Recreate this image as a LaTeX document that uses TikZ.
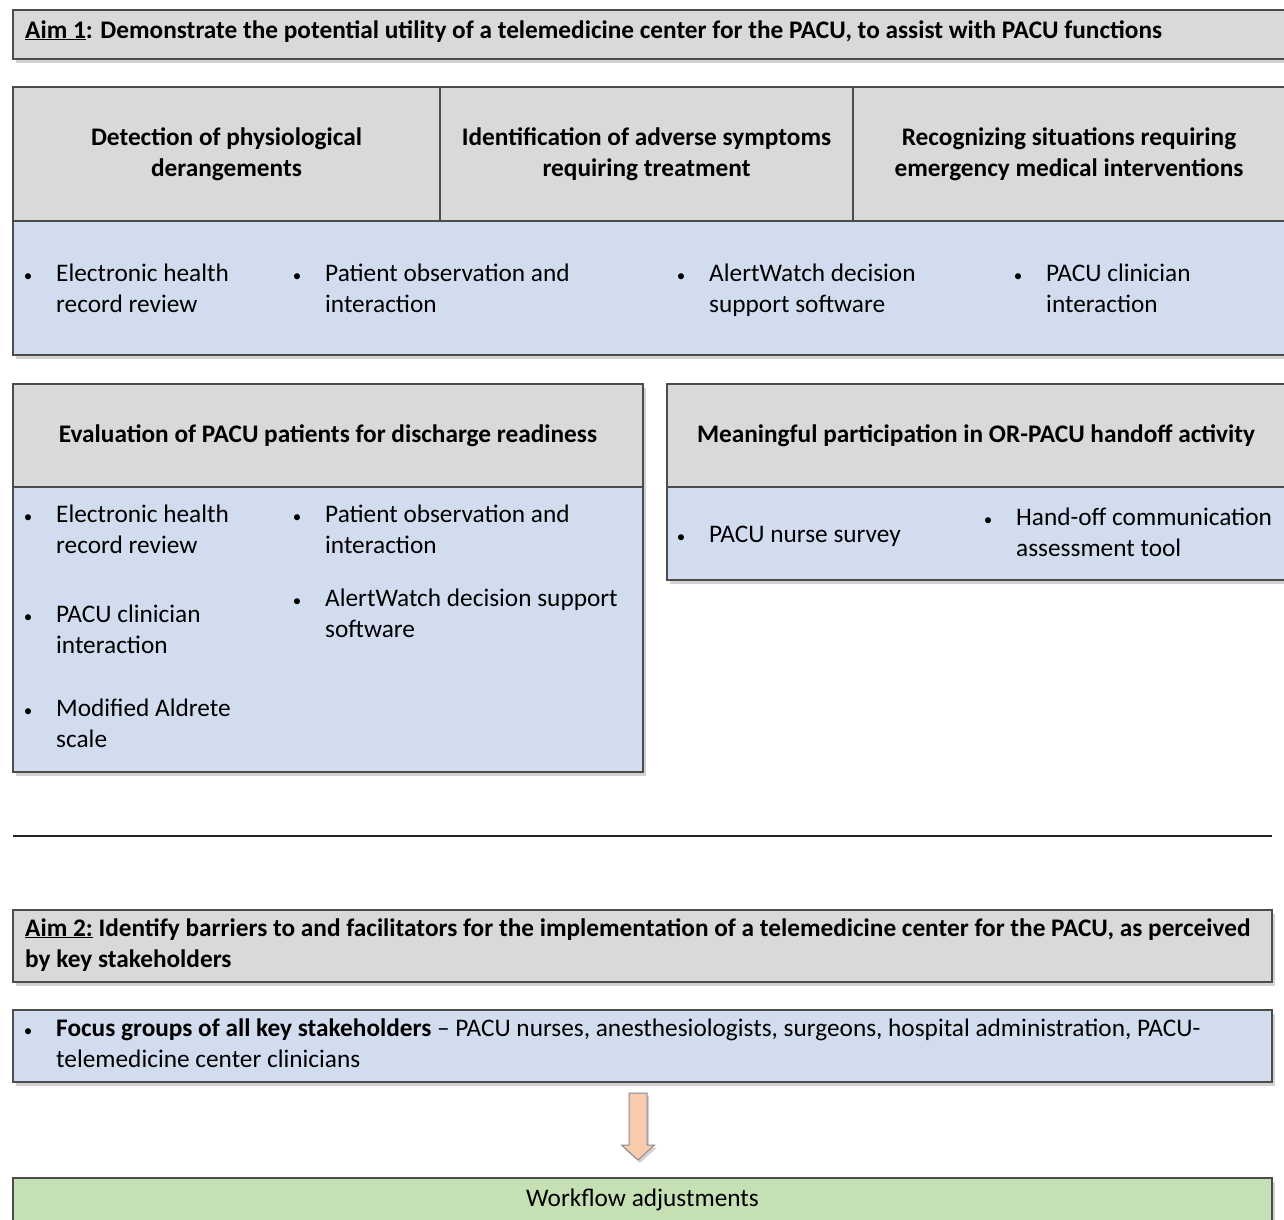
\documentclass[tikz,border=0pt]{standalone}
\usepackage{fontspec}
\setmainfont{Carlito}
\usetikzlibrary{shadows,calc}
\definecolor{boxgray}{RGB}{217,217,217}
\definecolor{boxblue}{RGB}{209,221,239}
\definecolor{boxgreen}{RGB}{197,224,180}
\definecolor{arrowpeach}{RGB}{248,203,173}
\newcommand{\bul}{\makebox[0pt]{\fontsize{17}{17}\selectfont\textbullet}\hspace*{28pt}}
\newcommand{\ind}{\hspace*{28pt}}

\begin{document}
\begin{tikzpicture}[x=1pt,y=-1pt,font=\fontsize{25.3}{31}\selectfont,
  box/.style={rectangle,draw=black!70,line width=1.2pt,anchor=north west,inner sep=0pt,outer sep=0pt,
    drop shadow={shadow xshift=3pt,shadow yshift=-4pt,opacity=.25,fill=black!70}},
  head/.style={box,fill=boxgray,align=center,font=\fontsize{25.3}{31}\selectfont\bfseries},
  body/.style={box,fill=boxblue},
  txt/.style={anchor=base west,inner sep=0pt,align=left}]
\useasboundingbox (0,0) rectangle (1284,1219);
\clip (0,0) rectangle (1284,1219);

% aim 1
\node [box,fill=boxgray,minimum width=1272,minimum height=49] (aim1) at (13,10) {};
\node [txt,font=\fontsize{25.3}{31}\selectfont\bfseries] (aim1t) at (25,38) {\underline{Aim 1}: Demonstrate the potential utility of a telemedicine center for the PACU, to assist with PACU functions};

% three functions
\node [head,minimum width=427,minimum height=134] (det) at (13,87) {Detection of physiological\\derangements};
\node [head,minimum width=413,minimum height=134] (ident) at (det.north east) {Identification of adverse symptoms\\requiring treatment};
\node [head,minimum width=432,minimum height=134] (recog) at (ident.north east) {Recognizing situations requiring\\emergency medical interventions};
\node [body,minimum width=1272,minimum height=134] (row1) at (det.south west) {};
\node [txt] (r1a) at (28,312) {\bul Electronic health\\\ind record review};
\node [txt] (r1b) at (297,312) {\bul Patient observation and\\\ind interaction};
\node [txt] (r1c) at (681,312) {\bul AlertWatch decision\\\ind support software};
\node [txt] (r1d) at (1018,312) {\bul PACU clinician\\\ind interaction};

% discharge readiness
\node [head,minimum width=630,minimum height=103] (evalh) at (13,384) {Evaluation of PACU patients for discharge readiness};
\node [body,minimum width=630,minimum height=285] (evalb) at (evalh.south west) {};
\node [txt] (e1) at (28,553) {\bul Electronic health\\\ind record review};
\node [txt] (e2) at (297,553) {\bul Patient observation and\\\ind interaction};
\node [txt] (e3) at (28,653) {\bul PACU clinician\\\ind interaction};
\node [txt] (e4) at (297,637) {\bul AlertWatch decision support\\\ind software};
\node [txt] (e5) at (28,747) {\bul Modified Aldrete\\\ind scale};

% handoff
\node [head,minimum width=618,minimum height=103] (meanh) at (667,384) {Meaningful participation in OR-PACU handoff activity};
\node [body,minimum width=618,minimum height=93] (meanb) at (meanh.south west) {};
\node [txt] (m1) at (681,542) {\bul PACU nurse survey};
\node [txt] (m2) at (988,556) {\bul Hand-off communication\\\ind assessment tool};

\coordinate (sepl) at (13,836);
\coordinate (sepr) at (1272,836);
\draw [line width=2pt,black!85] (sepl) -- (sepr);

% aim 2
\node [box,fill=boxgray,minimum width=1259,minimum height=72] (aim2) at (13,910) {};
\node [txt,font=\fontsize{25.3}{31}\selectfont\bfseries] (aim2t) at (25,967) {\underline{Aim 2:} Identify barriers to and facilitators for the implementation of a telemedicine center for the PACU, as perceived\\by key stakeholders};
\node [body,minimum width=1259,minimum height=72] (focus) at (13,1010) {};
\node [txt] (focust) at (28,1067) {\bul\textbf{Focus groups of all key stakeholders} -- PACU nurses, anesthesiologists, surgeons, hospital administration, PACU-\\\ind telemedicine center clinicians};
\node [box,fill=boxgreen,minimum width=1259,minimum height=44] (work) at (13,1178) {Workflow adjustments};

\draw [fill=arrowpeach,draw=black!45,line width=1pt,drop shadow={shadow xshift=2pt,shadow yshift=-3pt,opacity=.25,fill=black!70}]
  ($(focus.south)+(-13.5,11)$) -- ++(18,0) -- ++(0,52) -- ++(7.5,0) -- ++(-16.5,15) -- ++(-16.5,-15) -- ++(7.5,0) -- cycle;
\end{tikzpicture}
\end{document}
